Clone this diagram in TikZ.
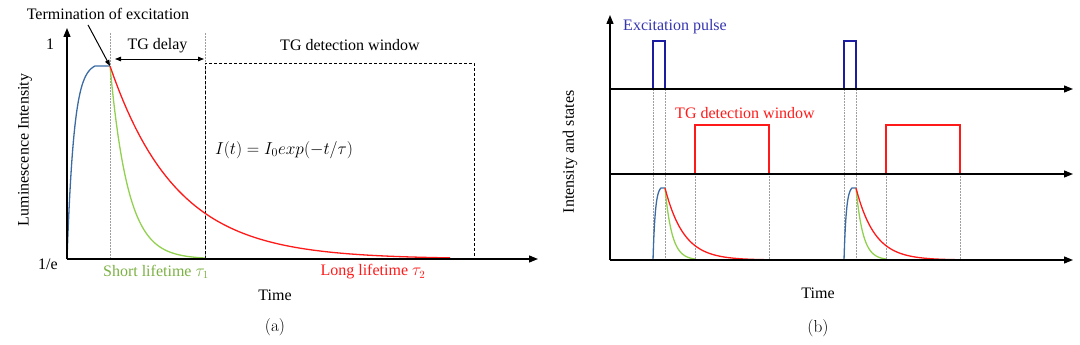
\documentclass[tikz,border=0pt]{standalone}
\usepackage{fontspec}
\newfontfamily\tnr{Liberation Serif}
\definecolor{tgred}{HTML}{FF1A1A}
\definecolor{tggreen}{HTML}{92D050}
\definecolor{tgblue}{HTML}{3B6BA5}
\definecolor{tgpulse}{HTML}{1C1CA0}
\definecolor{tgtext}{HTML}{3535B0}
\usetikzlibrary{arrows.meta,positioning}

\begin{document}
\begin{tikzpicture}[x=1pt,y=-1pt,
  lbl/.style={font=\tnr\fontsize{16}{19}\selectfont,inner sep=1pt},
  subcap/.style={font=\LARGE,inner sep=1pt},
  axis/.style={line width=1.3pt,-{Triangle[length=9pt,width=7pt]}},
  guide/.style={gray!75,line width=0.5pt,densely dotted},
  rise/.style={tgblue,line width=1.3pt},
  fast/.style={tggreen,line width=1.3pt},
  slow/.style={tgred,line width=1.3pt},
  tip/.style={-{Triangle[length=6pt,width=4.5pt]}}]
  \useasboundingbox (0,0) rectangle (1080,345);
  % (a) single decay
  \coordinate (oa) at (67,259);
  \coordinate (stop) at (110,66);
  \coordinate (gate) at (205,259);
  \draw[guide] (110,33) -- (110,259);
  \draw[guide] (205,33) -- (gate);
  \draw[densely dashed,line width=0.6pt] (gate) rectangle (474,63);
  \draw[rise] plot[domain=67:95,samples=40] (\x,{259-193*(1-exp(-(\x-67)/7))/(1-exp(-4))}) -- (stop);
  \draw[fast] plot[domain=110:205,samples=60] (\x,{259-193*exp(-(\x-110)/18)});
  \draw[slow] plot[domain=110:450,samples=80] (\x,{259-193*exp(-(\x-110)/66)});
  \draw[axis] (oa) -- (67,28);
  \draw[axis] (oa) -- (538,259);
  \node[lbl] (one) at (50,44) {1};
  \node[lbl] (inv) at (48,264) {1/e};
  \node[lbl,rotate=90] (ylab) at (25,150) {Luminescence Intensity};
  \node[lbl] (term) at (108,14) {Termination of excitation};
  \draw[tip,line width=1pt] ([xshift=-20pt,yshift=-4pt]term.south) -- (stop);
  \coordinate (d1) at (110,59);
  \coordinate (d2) at (205,59);
  \draw[{Triangle[length=6pt,width=4.5pt]}-{Triangle[length=6pt,width=4.5pt]},
    line width=0.8pt,shorten <=5pt,shorten >=1pt] (d1)
    -- node[lbl,above=5pt] (delay) {TG delay} (d2);
  \node[lbl] (wina) at (350,45) {TG detection window};
  \node[font=\LARGE] (eq) at (284,150) {$I(t) = I_0 exp(-t/\tau)$};
  \node[lbl,text=tggreen!85!black] (short) at (156,272) {Short lifetime $\tau_1$};
  \node[lbl,text=tgred] (long) at (373,272) {Long lifetime $\tau_2$};
  \node[lbl] (ta) at (275,295) {Time};
  \node[subcap] (capa) at (275,327) {(a)};
  % (b) repeated pulses
  \foreach \t in {0,191} {
    \draw[guide] ({653+\t},89) -- ({653+\t},260);
    \draw[guide] ({665+\t},89) -- ({665+\t},260);
    \draw[guide] ({695+\t},174) -- ({695+\t},260);
    \draw[guide] ({769+\t},174) -- ({769+\t},260);
    \draw[tgpulse,line width=1.4pt] ({653+\t},89) |- ({665+\t},41) -- ({665+\t},89);
    \draw[tgred,line width=1.6pt] ({695+\t},174) |- ({769+\t},125) -- ({769+\t},174);
    \draw[rise] plot[domain={653+\t}:{661+\t},samples=30]
      (\x,{260-72*(1-exp(-(\x-653-\t)/2.3))/(1-exp(-8/2.3))}) -- ({665+\t},188);
    \draw[fast] plot[domain={665+\t}:{695+\t},samples=40] (\x,{260-72*exp(-(\x-665-\t)/7)});
    \draw[slow] plot[domain={665+\t}:{769+\t},samples=60] (\x,{260-72*exp(-(\x-665-\t)/18.6)});
  }
  \coordinate (ob) at (610,260);
  \draw[axis] (ob) -- (610,15);
  \draw[axis] (610,89) -- (1073,89);
  \draw[axis] (610,174) -- (1073,174);
  \draw[axis] (ob) -- (1073,260);
  \node[lbl,text=tgtext] (exc) at (675,27) {Excitation pulse};
  \node[lbl,text=tgred] (winb) at (745,113) {TG detection window};
  \node[lbl,rotate=90] (ylabb) at (570,152) {Intensity and states};
  \node[lbl] (tb) at (818,293) {Time};
  \node[subcap] (capb) at (818,328) {(b)};
\end{tikzpicture}
\end{document}
